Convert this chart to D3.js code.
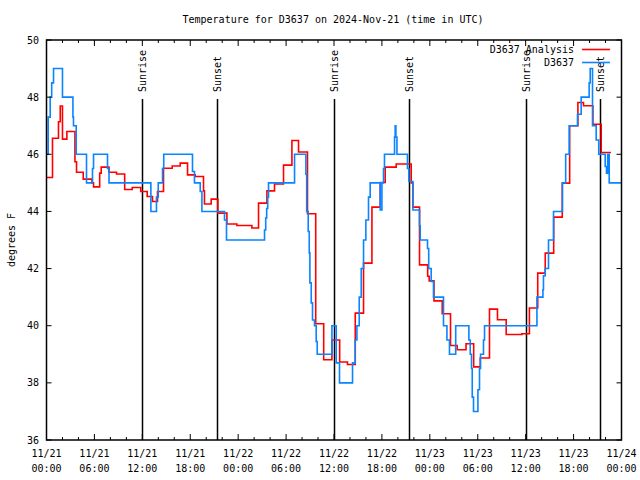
<!DOCTYPE html>
<html>
<head>
<meta charset="utf-8">
<script src="https://cdn.jsdelivr.net/npm/d3@7"></script>
<style>
  html, body { margin: 0; padding: 0; background: #fff; }
  svg { display: block; }
  text { font-family: "DejaVu Sans Mono", "Liberation Mono", monospace; font-size: 10px; fill: #000; }
</style>
</head>
<body>
<script>
// ---- data (hours since 2024-11-21 00:00 UTC, degrees F) ----
const obsHours = [0.0,0.21,0.46,0.65,0.88,2.00,3.31,3.38,3.72,5.01,5.76,5.89,7.64,7.83,13.07,13.77,13.99,14.53,14.68,18.28,18.53,19.25,19.46,22.29,22.54,27.30,27.45,27.57,27.70,27.80,31.06,32.48,32.58,32.77,32.90,32.98,33.15,33.31,33.56,33.77,33.90,35.74,36.28,36.69,38.32,38.66,38.87,39.16,39.41,39.70,39.99,40.32,40.53,41.79,42.00,42.20,42.32,43.58,43.66,43.75,43.88,45.20,45.38,45.88,46.71,46.79,47.71,47.86,48.17,48.46,49.71,50.14,50.46,51.24,52.89,53.06,53.22,53.31,53.47,54.02,54.22,54.35,54.72,54.85,61.41,62.16,62.23,62.45,62.86,63.49,64.61,65.01,65.45,66.49,66.95,67.95,68.08,68.37,68.83,69.15,69.96,70.12,70.27,70.46,72.0];
const obsTemps = [46.0,47.3,48.0,48.5,49.0,48.0,47.3,47.0,46.0,45.0,45.5,46.0,45.5,45.0,44.0,44.5,45.0,45.5,46.0,45.4,45.0,44.7,44.0,43.7,43.0,43.35,43.77,44.1,44.5,45.0,46.0,45.3,44.0,43.3,42.55,41.5,40.8,40.2,40.0,39.45,39.0,40.0,38.7,38.0,38.7,39.5,40.0,41.0,42.0,43.0,43.7,44.5,45.0,44.05,45.0,45.5,46.0,46.6,47.0,46.6,46.0,45.5,45.05,44.05,43.5,43.0,42.7,42.0,41.55,41.0,40.0,39.5,39.0,40.0,39.5,39.0,38.5,37.5,37.0,37.76,38.5,39.0,39.5,40.0,41.0,41.26,41.75,42.0,43.0,44.0,45.0,46.0,47.0,47.4,48.0,48.5,49.0,47.0,46.5,46.0,45.57,45.34,46.0,45.0,45.0];

const anaHours = [0.0,0.75,1.50,1.72,2.00,2.55,3.56,3.76,4.60,5.69,5.89,6.66,6.85,7.83,8.77,9.79,10.73,11.80,12.61,13.27,13.90,14.65,15.74,16.74,17.66,18.62,19.66,19.78,20.62,21.46,22.59,23.84,25.72,26.55,27.60,28.55,29.68,30.73,31.56,32.68,33.71,34.71,35.74,36.71,37.69,38.66,39.70,40.75,41.79,42.41,43.79,45.67,45.88,46.71,47.73,47.92,48.52,49.55,50.59,51.43,52.53,53.49,54.31,55.47,56.47,57.56,59.53,60.47,61.51,62.45,63.51,64.58,65.51,66.54,67.24,68.42,69.46,70.68];
const anaTemps = [45.19,46.56,47.14,47.69,46.53,46.8,45.74,45.37,45.13,45.0,44.86,45.34,45.55,45.37,45.31,44.77,44.84,44.70,44.52,44.35,44.70,45.51,45.59,45.69,45.28,45.22,44.72,44.26,44.43,43.94,43.56,43.51,43.42,44.29,44.72,44.96,45.62,46.48,46.08,43.92,40.07,38.81,39.5,38.73,38.64,40.44,42.19,44.15,45.01,45.55,45.66,45.0,44.15,42.13,41.73,41.57,40.87,40.42,39.31,39.16,39.37,38.56,38.87,40.58,40.21,39.69,39.72,40.62,41.84,42.54,43.8,44.99,47.0,47.81,47.70,47.05,46.06,46.06];

const sunHours = [11.90, 21.29, 35.99, 45.38, 60.03, 69.25];
const sunLabels = ["Sunrise", "Sunset", "Sunrise", "Sunset", "Sunrise", "Sunset"];

const yTicks = [36, 38, 40, 42, 44, 46, 48, 50];
const xTickHours = [0, 6, 12, 18, 24, 30, 36, 42, 48, 54, 60, 66, 72];
const seriesNames = ["D3637 Analysis", "D3637"];
const seriesColors = ["#ff0000", "#0a84ff"];
const titleText = "Temperature for D3637 on 2024-Nov-21 (time in UTC)";
const yLabel = "degrees F";

// ---- chart ----
const W = 640, H = 480;
const m = { left: 46.5, right: 621.5, top: 40, bottom: 440 };
const t0 = Date.UTC(2024, 10, 21, 0, 0);
const toDate = h => new Date(t0 + h * 3600e3);

const x = d3.scaleUtc().domain([toDate(0), toDate(72)]).range([m.left, m.right]);
const y = d3.scaleLinear().domain([36, 50]).range([m.bottom, m.top]);

const svg = d3.select("body").append("svg").attr("width", W).attr("height", H);

// title
svg.append("text").attr("x", 333).attr("y", 23).attr("text-anchor", "middle").text(titleText);

// y label
svg.append("text").attr("transform", "translate(15,240) rotate(-90)")
  .attr("text-anchor", "middle").text(yLabel);

// sunrise / sunset lines
const sun = svg.append("g");
sunHours.forEach((h, i) => {
  const sx = Math.round(x(toDate(h))) + 0.5;
  sun.append("line").attr("x1", sx).attr("x2", sx).attr("y1", 99).attr("y2", m.bottom)
    .attr("stroke", "#000").attr("stroke-width", 1.5);
  sun.append("text").attr("transform", `translate(${sx + 3},92) rotate(-90)`)
    .attr("text-anchor", "start").text(sunLabels[i]);
});

// series
const line = d3.line().curve(d3.curveStepAfter)
  .x(d => x(toDate(d[0]))).y(d => y(d[1]));
const ana = anaHours.map((h, i) => [h, anaTemps[i]]);
const obs = obsHours.map((h, i) => [h, obsTemps[i]]);
svg.append("path").datum(ana).attr("d", line).attr("fill", "none")
  .attr("stroke", seriesColors[0]).attr("stroke-width", 1.6);
svg.append("path").datum(obs).attr("d", line).attr("fill", "none")
  .attr("stroke", seriesColors[1]).attr("stroke-width", 1.6);

// frame
svg.append("rect").attr("x", m.left).attr("y", m.top)
  .attr("width", m.right - m.left).attr("height", m.bottom - m.top)
  .attr("fill", "none").attr("stroke", "#000").attr("stroke-width", 1.5);

// y ticks (left and right)
const yt = svg.append("g");
yTicks.forEach(v => {
  const yy = y(v);
  yt.append("line").attr("x1", m.left).attr("x2", m.left + 5).attr("y1", yy).attr("y2", yy).attr("stroke", "#000");
  yt.append("line").attr("x1", m.right).attr("x2", m.right - 5).attr("y1", yy).attr("y2", yy).attr("stroke", "#000");
  yt.append("text").attr("x", 39).attr("y", yy).attr("dy", "0.35em").attr("text-anchor", "end").text(v);
});

// x ticks: major every 6h, minor every 2h, top and bottom
const xt = svg.append("g");
d3.range(0, 73, 2).forEach(h => {
  const xx = x(toDate(h));
  const len = h % 6 === 0 ? 6 : 3;
  xt.append("line").attr("x1", xx).attr("x2", xx).attr("y1", m.bottom).attr("y2", m.bottom - len).attr("stroke", "#000");
  xt.append("line").attr("x1", xx).attr("x2", xx).attr("y1", m.top).attr("y2", m.top + len).attr("stroke", "#000");
});
const fmt1 = d3.utcFormat("%m/%d"), fmt2 = d3.utcFormat("%H:%M");
xTickHours.forEach(h => {
  const d = toDate(h), xx = x(d);
  const t = xt.append("text").attr("x", xx).attr("text-anchor", "middle");
  t.append("tspan").attr("x", xx).attr("y", 457).text(fmt1(d));
  t.append("tspan").attr("x", xx).attr("y", 472).text(fmt2(d));
});

// legend
const lg = svg.append("g");
seriesNames.forEach((n, i) => {
  const ly = 49.5 + i * 13;
  lg.append("text").attr("x", 574).attr("y", ly).attr("dy", "0.35em").attr("text-anchor", "end").text(n);
  lg.append("line").attr("x1", 582).attr("x2", 610).attr("y1", ly).attr("y2", ly)
    .attr("stroke", seriesColors[i]).attr("stroke-width", 1.6);
});
</script>
</body>
</html>
